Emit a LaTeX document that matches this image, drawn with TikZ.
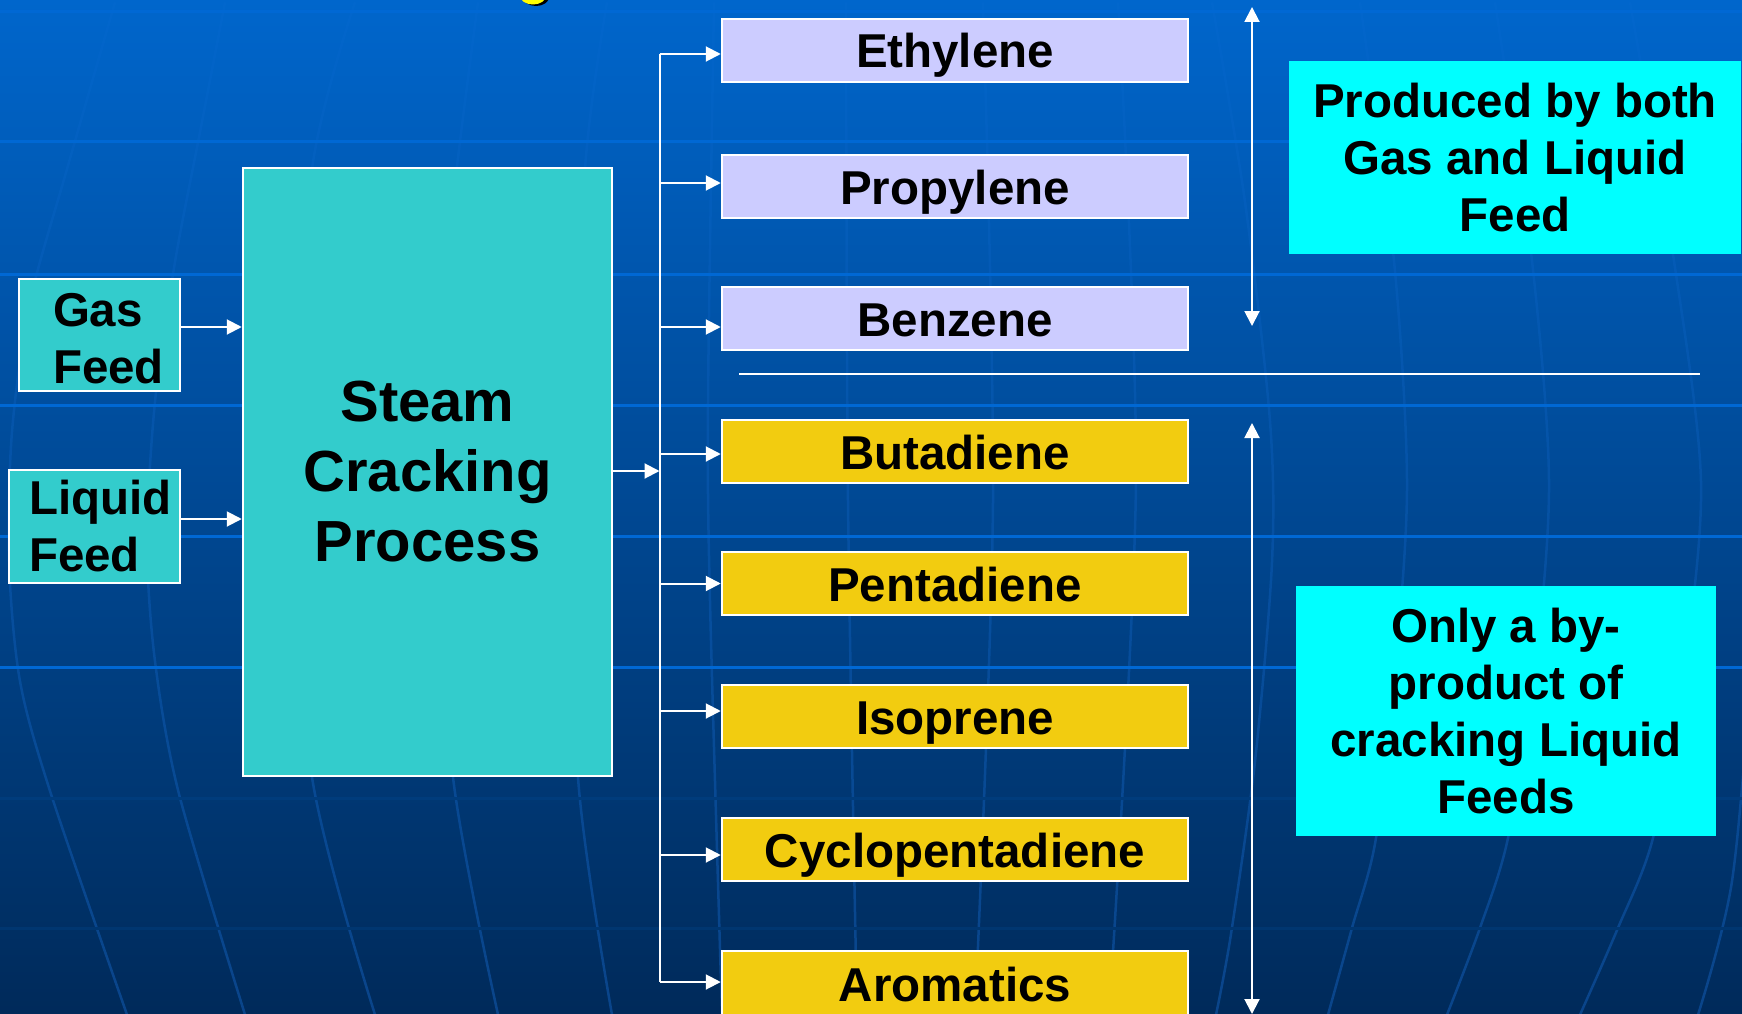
\documentclass[tikz,border=0pt]{standalone}
\usepackage{fontspec}
\setmainfont{Liberation Sans}
\usetikzlibrary{arrows.meta,calc,fadings}
\definecolor{bgtop}{RGB}{0,102,204}
\definecolor{bgmid}{RGB}{0,80,160}
\definecolor{bgbot}{RGB}{0,42,90}
\definecolor{gridlt}{RGB}{0,104,212}
\definecolor{griddk}{RGB}{0,60,124}
\definecolor{griddk2}{RGB}{0,54,112}
\definecolor{meridc}{RGB}{30,120,230}
\definecolor{tealbox}{RGB}{51,204,204}
\definecolor{lavbox}{RGB}{204,204,255}
\definecolor{goldbox}{RGB}{242,204,16}
\definecolor{cyanbox}{RGB}{0,255,255}
\definecolor{titleyellow}{RGB}{255,255,0}
\tikzfading[name=meridfade, top color=transparent!80, bottom color=transparent!0]
\tikzset{
  txt/.style={font=\bfseries\fontsize{47.5}{57}\selectfont},
  boxed/.style={draw=white, line width=2.5pt, inner sep=0pt, txt},
  prod/.style={boxed, minimum width=466pt, minimum height=63pt, text height=35pt, text depth=0pt},
  upperprod/.style={prod, fill=lavbox},
  lowerprod/.style={prod, fill=goldbox},
  feedbox/.style={boxed, fill=tealbox, align=left},
  notebox/.style={fill=cyanbox, inner sep=0pt, align=center, txt},
  wline/.style={white, line width=2pt},
  arr/.style={wline, -{Triangle[length=15pt,width=15pt]}},
  darr/.style={wline, {Triangle[length=15pt,width=15pt]}-{Triangle[length=15pt,width=15pt]}},
  merid/.style={meridc, draw opacity=0.35, line width=2.5pt, path fading=meridfade},
  hgrid/.style={line width=3pt},
}
\begin{document}
\begin{tikzpicture}[x=1pt,y=-1pt]
\useasboundingbox (0,0) rectangle (1742,1014);
\clip (0,0) rectangle (1742,1014);
% background
\shade[top color=bgtop, middle color=bgmid, bottom color=bgbot] (0,0) rectangle (1742,1014);
% meridians
\draw[merid] plot[smooth] coordinates {(115,0) (67,167) (30,300) (12,430) (9,560) (20,680) (51,793) (127,1014)};
\draw[merid] plot[smooth] coordinates {(225,0) (200,130) (175,260) (155,400) (147,540) (155,660) (179,793) (245,1014)};
\draw[merid] plot[smooth] coordinates {(355,0) (312,167) (292,470) (312,776) (375,1014)};
\draw[merid] plot[smooth] coordinates {(478,0) (446,267) (440,500) (453,776) (498,1014)};
\draw[merid] plot[smooth] coordinates {(607,0) (585,167) (575,470) (578,776) (612,1014)};
\draw[merid] plot[smooth] coordinates {(714,0) (708,400) (710,600) (722,1014)};
\draw[merid] plot[smooth] coordinates {(846,0) (848,500) (857,1014)};
\draw[merid] plot[smooth] coordinates {(983,0) (993,500) (975,1014)};
\draw[merid] plot[smooth] coordinates {(1118,0) (1136,480) (1109,1014)};
\draw[merid] plot[smooth] coordinates {(1212,0) (1245,200) (1270,420) (1272,560) (1255,760) (1231,933) (1216,1014)};
\draw[merid] plot[smooth] coordinates {(1360,0) (1394,259) (1407,480) (1396,660) (1376,837) (1352,927) (1328,1014)};
\draw[merid] plot[smooth] coordinates {(1495,0) (1532,259) (1549,480) (1535,670) (1508,837) (1480,927) (1447,1014)};
\draw[merid] plot[smooth] coordinates {(1630,0) (1674,259) (1701,480) (1684,670) (1653,837) (1618,927) (1580,1014)};
\draw[merid] plot[smooth] coordinates {(1770,0) (1760,420) (1752,650) (1732,880) (1698,1014)};
% horizontal grid lines
\foreach \yy in {12,142,274,405,536,667} \draw[hgrid, gridlt] (0,\yy) -- (1742,\yy);
\draw[hgrid, griddk] (0,798) -- (1742,798);
\draw[hgrid, griddk2] (0,928) -- (1742,928);
% fragment of title glyph at the top edge
\fill[black] (536,-3) ellipse [x radius=13pt, y radius=9pt];
\fill[titleyellow] (533,-4.5) ellipse [x radius=13pt, y radius=9pt];

% feed and process boxes
\node[feedbox, minimum width=161pt, minimum height=112pt, inner xsep=34pt, text width=93pt] (gas) at (99.5,335) {\rule{0pt}{41pt}Gas\\Feed};
\node[feedbox, minimum width=171pt, minimum height=113pt, inner xsep=20pt, text width=131pt] (liq) at (94.5,526.5) {Liquid\\Feed};
\node[boxed, fill=tealbox, minimum width=369pt, minimum height=608pt, align=center, font=\bfseries\fontsize{58}{70}\selectfont] (steam) at (427.5,472) {Steam\\Cracking\\Process};

% product boxes
\node[upperprod] (eth) at (955,50.5) {Ethylene};
\node[upperprod] (pro) at (955,186.5) {Propylene};
\node[upperprod] (ben) at (955,318.5) {Benzene};
\node[lowerprod] (but) at (955,451.5) {Butadiene};
\node[lowerprod] (pen) at (955,583.5) {Pentadiene};
\node[lowerprod] (iso) at (955,716.5) {Isoprene};
\node[lowerprod] (cyc) at (955,849.5) {Cyclopentadiene};
\node[lowerprod, minimum height=65pt] (aro) at (955,983.5) {Aromatics};

% notes
\node[notebox, minimum width=452pt, minimum height=193pt] (both) at (1515,157.5) {Produced by both\\Gas and Liquid\\Feed};
\node[notebox, minimum width=420pt, minimum height=250pt] (only) at (1506,711) {Only a by-\\product of\\cracking Liquid\\Feeds};

% connectors
\coordinate (bus) at (659.5,471);
\draw[arr] ([yshift=8pt]gas.east) -- ([yshift=8pt]gas.east -| steam.west);
\draw[arr] ([yshift=7.5pt]liq.east) -- ([yshift=7.5pt]liq.east -| steam.west);
\draw[arr] (steam.east |- bus) -- (bus);
\draw[wline] ($(bus |- eth.west)+(0,3.5)$) -- ($(bus |- aro.west)+(0,-1.5)$);
\foreach \p/\dy in {eth/3.5,pro/-3.5,ben/8.5,but/2.5,pen/0,iso/-5.5,cyc/5.5,aro/-1.5}
  \draw[arr] ($(bus |- \p.west)+(0,\dy)$) -- ($(\p.west)+(0,\dy)$);

% range arrows and separator
\coordinate (ra1) at (1252,7);
\coordinate (ra2) at (1252,326);
\coordinate (rb1) at (1252,423);
\coordinate (rb2) at (1252,1014);
\draw[darr] (ra1) -- (ra2);
\draw[darr] (rb1) -- (rb2);
\coordinate (sep1) at (739,374);
\coordinate (sep2) at (1700,374);
\draw[white, line width=1.5pt] (sep1) -- (sep2);
\end{tikzpicture}
\end{document}
